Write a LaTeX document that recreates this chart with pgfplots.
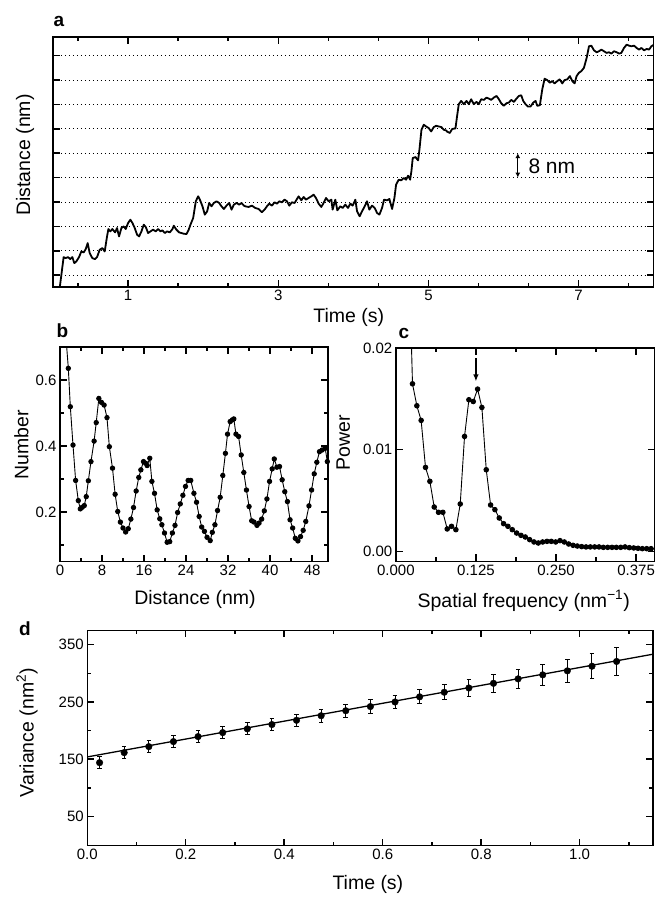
\documentclass[border=0pt]{standalone}
\usepackage{fontspec}
\setmainfont{Liberation Sans}
\usepackage{pgfplots}
\pgfplotsset{compat=1.18}
\usepackage{pgfplotstable}
\usetikzlibrary{arrows.meta}

\pgfplotstableread{
x y
0.089 3.73
0.142 13.92
0.169 13.59
0.200 13.92
0.231 13.26
0.258 13.92
0.284 11.95
0.311 12.49
0.347 13.92
0.378 15.78
0.409 15.45
0.436 16.55
0.462 18.52
0.489 15.23
0.524 13.59
0.560 13.26
0.587 13.92
0.622 16.33
0.658 16.88
0.689 15.78
0.720 20.71
0.738 23.12
0.764 22.36
0.791 23.12
0.827 22.03
0.853 23.45
0.880 20.71
0.911 23.45
0.942 24.00
0.969 23.12
1.000 25.10
1.031 26.19
1.058 25.10
1.089 23.45
1.120 21.26
1.147 20.71
1.178 22.36
1.209 24.55
1.236 23.78
1.267 21.81
1.298 22.36
1.333 22.91
1.369 22.36
1.400 23.12
1.431 22.36
1.458 22.69
1.489 21.81
1.520 22.36
1.556 22.03
1.591 23.12
1.609 24.22
1.644 22.91
1.680 22.03
1.711 21.81
1.742 21.59
1.778 21.48
1.804 22.69
1.831 24.55
1.867 26.74
1.902 32.22
1.933 33.87
1.956 32.77
1.991 30.58
2.022 27.84
2.053 28.93
2.080 31.67
2.111 30.58
2.142 31.67
2.178 32.22
2.213 31.67
2.244 30.58
2.276 29.70
2.311 30.80
2.347 31.67
2.378 29.48
2.409 31.13
2.444 31.67
2.480 31.13
2.511 31.67
2.542 30.80
2.560 30.58
2.604 30.36
2.649 30.80
2.693 30.04
2.738 29.71
2.782 28.62
2.818 29.49
2.849 30.58
2.880 31.45
2.916 30.80
2.951 31.89
2.982 31.45
3.013 32.22
3.049 31.89
3.084 32.76
3.116 32.22
3.147 30.80
3.182 31.89
3.218 31.67
3.249 32.98
3.271 33.85
3.307 32.55
3.338 33.64
3.369 32.76
3.404 33.31
3.440 33.85
3.471 34.40
3.502 33.31
3.538 31.45
3.573 30.36
3.604 31.67
3.636 33.31
3.671 32.22
3.707 32.76
3.724 29.49
3.760 32.76
3.787 29.27
3.827 30.58
3.858 30.04
3.893 31.13
3.929 30.04
3.960 31.45
3.991 30.80
4.027 32.76
4.049 28.95
4.084 27.31
4.116 28.95
4.151 30.58
4.182 32.22
4.213 29.49
4.249 30.80
4.284 30.04
4.316 28.40
4.347 27.85
4.382 30.04
4.409 32.76
4.449 32.55
4.480 32.98
4.516 29.71
4.547 33.31
4.569 37.67
4.604 39.31
4.636 39.09
4.671 39.86
4.702 39.31
4.729 40.62
4.756 39.31
4.773 42.04
4.791 46.40
4.827 46.73
4.862 45.64
4.880 49.13
4.907 55.67
4.938 57.31
4.969 56.76
5.004 56.22
5.036 55.13
5.071 56.55
5.102 56.98
5.138 56.76
5.173 56.55
5.204 55.67
5.236 55.46
5.249 55.05
5.284 54.62
5.316 55.92
5.360 56.14
5.382 60.26
5.404 64.06
5.436 65.14
5.471 64.06
5.507 65.14
5.538 64.06
5.569 65.69
5.604 64.06
5.640 64.82
5.671 64.06
5.702 65.69
5.738 65.47
5.773 66.23
5.804 65.90
5.836 65.47
5.871 66.23
5.907 66.77
5.938 65.69
5.969 64.38
6.004 63.52
6.040 64.38
6.071 64.60
6.102 65.47
6.138 64.82
6.173 65.90
6.204 66.77
6.236 66.99
6.262 65.14
6.293 64.06
6.324 63.30
6.360 63.30
6.396 64.60
6.427 65.14
6.449 63.52
6.484 63.73
6.516 68.94
6.547 72.41
6.582 71.98
6.618 71.11
6.649 71.65
6.680 70.89
6.716 71.65
6.747 72.20
6.782 70.89
6.813 71.98
6.849 72.20
6.884 73.28
6.916 71.65
6.947 70.89
6.973 73.28
7.004 74.37
7.036 74.91
7.071 75.99
7.107 79.25
7.138 83.05
7.169 83.26
7.204 81.74
7.240 81.09
7.271 81.42
7.302 81.96
7.338 81.42
7.373 80.88
7.404 81.09
7.436 80.66
7.471 81.42
7.507 81.09
7.538 80.66
7.569 80.88
7.604 82.50
7.640 83.59
7.671 83.26
7.702 83.05
7.738 83.26
7.773 82.50
7.804 81.96
7.836 82.50
7.871 81.74
7.907 82.18
7.938 81.96
7.969 83.05
8.004 83.59
}\traceA

\pgfplotstableread{
x y
1.59 0.635
1.97 0.519
2.48 0.403
2.98 0.296
3.49 0.235
3.87 0.210
4.25 0.215
4.63 0.220
5.00 0.247
5.40 0.295
5.90 0.353
6.50 0.415
6.90 0.471
7.40 0.544
7.90 0.532
8.40 0.524
8.95 0.486
9.40 0.398
10.0 0.333
10.5 0.254
11.0 0.202
11.5 0.170
12.0 0.152
12.5 0.140
13.0 0.150
13.5 0.179
14.0 0.214
14.5 0.264
15.0 0.305
15.4 0.328
15.9 0.353
16.3 0.348
16.6 0.341
17.1 0.363
17.5 0.293
18.0 0.257
18.5 0.207
19.0 0.180
19.4 0.162
19.9 0.137
20.4 0.109
20.9 0.111
21.4 0.137
21.9 0.160
22.4 0.199
22.9 0.225
23.4 0.251
23.9 0.278
24.4 0.296
24.9 0.296
25.5 0.257
26.0 0.230
26.5 0.187
26.98 0.155
27.5 0.142
28.0 0.124
28.6 0.114
29.0 0.139
29.5 0.162
30.0 0.205
30.5 0.245
31.0 0.311
31.5 0.378
31.9 0.436
32.4 0.474
32.8 0.479
33.1 0.482
33.5 0.436
34.0 0.429
34.5 0.373
35.0 0.320
35.5 0.267
36.0 0.217
36.5 0.174
36.95 0.170
37.5 0.160
37.9 0.167
38.4 0.179
38.9 0.204
39.4 0.240
39.9 0.293
40.4 0.331
40.8 0.361
41.3 0.336
41.8 0.338
42.3 0.298
42.8 0.262
43.3 0.232
43.8 0.177
44.3 0.152
44.8 0.121
45.3 0.113
45.8 0.126
46.3 0.145
46.8 0.172
47.4 0.219
47.9 0.267
48.4 0.316
48.9 0.351
49.4 0.383
49.9 0.388
50.5 0.393
50.9 0.353
}\tabB

\pgfplotstableread{
x y
0.0260 0.01649
0.0328 0.01433
0.0395 0.01289
0.0463 0.00826
0.0531 0.00689
0.0599 0.00436
0.0666 0.00384
0.0734 0.00384
0.0802 0.00220
0.0869 0.00246
0.0937 0.00213
0.1005 0.00466
0.1072 0.01131
0.1140 0.01492
0.1208 0.01475
0.1276 0.01597
0.1343 0.01416
0.1411 0.00803
0.1479 0.00456
0.1546 0.00410
0.1614 0.00328
0.1682 0.00272
0.1749 0.00246
0.1817 0.00213
0.1885 0.00180
0.1953 0.00157
0.2020 0.00141
0.2088 0.00115
0.2156 0.00092
0.2223 0.00082
0.2291 0.00092
0.2359 0.00098
0.2426 0.00098
0.2494 0.00092
0.2562 0.00105
0.2629 0.00092
0.2697 0.00072
0.2765 0.00059
0.2832 0.00052
0.2900 0.00046
0.2968 0.00043
0.3035 0.00043
0.3103 0.00043
0.3171 0.00043
0.3238 0.00039
0.3306 0.00039
0.3374 0.00039
0.3441 0.00039
0.3509 0.00039
0.3577 0.00043
0.3644 0.00036
0.3712 0.00033
0.3780 0.00030
0.3847 0.00026
0.3915 0.00026
0.3983 0.00026
0.4050 0.00023
}\tabC

\pgfplotstableread{
x y e
0.025 144.0 10
0.075 161.5 10
0.125 172.0 10
0.175 180.8 10
0.225 189.5 10.5
0.275 196.5 10.5
0.325 203.0 10.5
0.375 210.6 10.5
0.425 218.0 11
0.475 226.0 11
0.525 234.7 11.5
0.575 242.0 11.6
0.625 250.0 11.7
0.675 259.0 12
0.725 267.0 13
0.775 274.5 14.6
0.825 282.6 16
0.875 290.4 17
0.925 297.4 18
0.975 304.4 20
1.025 312.5 22
1.075 320.8 24
}\tabD

\pgfplotsset{
  myaxis/.style={
    scale only axis, anchor=north west,
    axis line style={line width=1.4pt},
    tick align=inside, xtick pos=both, ytick pos=both,
    tickwidth=7pt, subtickwidth=4pt,
    tick style={black, line width=1.5pt},
    tick label style={font=\fontsize{15}{18}\selectfont},
    label style={font=\fontsize{19.5}{23}\selectfont},
    scaled ticks=false,
    /pgf/number format/assume math mode=true,
  },
}

\begin{document}
\begin{tikzpicture}
\path (0pt,0pt) rectangle (657pt,-897pt);
% ---------------- a
\begin{axis}[myaxis, at={(53pt,-37pt)}, width=601pt, height=250pt,
  xmin=0, xmax=8, ymin=4.16, ymax=86.1,
  xtick={1,3,5,7},
  minor xtick={0.3333,1.6667,2.3333,3.6667,4.3333,5.6667,6.3333,7.6667},
  ytick={8,16,24,32,40,48,56,64,72,80}, yticklabel=\empty,
  ymajorgrids, major grid style={dash pattern=on 1pt off 3pt, line width=0.8pt, black},
  xlabel={Time (s)}, ylabel={Distance (nm)},
  xlabel style={at={(axis description cs:0.4925,-0.124)}, anchor=center},
  ylabel style={at={(axis description cs:-0.0466,0.528)}, anchor=center},
]
\addplot[black, line width=1.8pt, line join=round] table[x=x,y=y]{\traceA};
\draw[{Latex[length=5pt,width=5pt]}-{Latex[length=5pt,width=5pt]}, line width=1pt] (axis cs:6.19,40) -- (axis cs:6.19,48);
\node[anchor=west, font=\fontsize{21}{24}\selectfont, inner sep=0pt] at (axis cs:6.33,43.6) {8 nm};
\end{axis}
% ---------------- b
\begin{axis}[myaxis, at={(60pt,-347pt)}, width=268pt, height=215pt,
  xmin=0, xmax=51, ymin=0.05, ymax=0.70,
  xtick={0,8,16,24,32,40,48}, minor xtick={4,12,20,28,36,44},
  ytick={0.2,0.4,0.6}, minor ytick={0.1,0.3,0.5},
  yticklabel style={/pgf/number format/.cd, fixed, precision=1, fixed zerofill},
  xlabel={Distance (nm)}, ylabel={Number},
  xlabel style={at={(axis description cs:0.504,-0.1735)}, anchor=center},
  ylabel style={at={(axis description cs:-0.1437,0.544)}, anchor=center},
]
\addplot[black, line width=0.9pt] coordinates {(1.11,0.735) (1.59,0.635)};
\addplot[black, line width=0.9pt, mark=*, mark size=2.2pt] table[x=x,y=y]{\tabB};
\end{axis}
% ---------------- c
\begin{axis}[myaxis, at={(396pt,-348.3pt)}, width=259pt, height=213.4pt,
  xmin=0, xmax=0.404, ymin=-0.001, ymax=0.02,
  xtick={0,0.125,0.25,0.375}, minor xtick={0.0625,0.1875,0.3125},
  ytick={0,0.01,0.02},
  xticklabel style={/pgf/number format/.cd, fixed, precision=3, fixed zerofill},
  yticklabel style={/pgf/number format/.cd, fixed, precision=2, fixed zerofill},
  xlabel={Spatial frequency (nm\textsuperscript{−1})}, ylabel={Power},
  xlabel style={at={(axis description cs:0.494,-0.184)}, anchor=center},
  ylabel style={at={(axis description cs:-0.2027,0.556)}, anchor=center},
]
\addplot[black, line width=0.9pt] coordinates {(0.0192,0.0324) (0.0260,0.01649)};
\addplot[black, line width=0.9pt, mark=*, mark size=2.3pt] table[x=x,y=y]{\tabC};
\draw[-{Latex[length=7pt,width=5.5pt]}, line width=1.4pt] (axis cs:0.125,0.0190) -- (axis cs:0.125,0.01672);
\end{axis}
% ---------------- d
\begin{axis}[myaxis, at={(87.3pt,-630.7pt)}, width=566pt, height=215.3pt,
  xmin=0, xmax=1.149, ymin=-1, ymax=375,
  xtick={0,0.2,0.4,0.6,0.8,1.0}, minor xtick={0.1,0.3,0.5,0.7,0.9,1.1},
  ytick={50,150,250,350}, minor ytick={100,200,300},
  xticklabel style={/pgf/number format/.cd, fixed, precision=1, fixed zerofill},
  xlabel={Time (s)}, ylabel={Variance (nm\textsuperscript{2})},
  xlabel style={at={(axis description cs:0.496,-0.181)}, anchor=center},
  ylabel style={at={(axis description cs:-0.1065,0.525)}, anchor=center},
]
\addplot[black, line width=1.3pt] coordinates {(0,154) (1.149,333.5)};
\addplot[black, only marks, mark=*, mark size=3.3pt,
  error bars/.cd, y dir=both, y explicit,
  error bar style={line width=1pt, black},
  error mark options={rotate=90, mark size=2.3pt, line width=1pt, black}]
  table[x=x,y=y,y error=e]{\tabD};
\end{axis}
% panel letters
\node[font=\bfseries\fontsize{19}{20}\selectfont, inner sep=0pt] at (59pt,-21pt) {a};
\node[font=\bfseries\fontsize{19}{20}\selectfont, inner sep=0pt] at (62.5pt,-331pt) {b};
\node[font=\bfseries\fontsize{19}{20}\selectfont, inner sep=0pt] at (404pt,-334pt) {c};
\node[font=\bfseries\fontsize{19}{20}\selectfont, inner sep=0pt] at (25pt,-629pt) {d};
\end{tikzpicture}
\end{document}
